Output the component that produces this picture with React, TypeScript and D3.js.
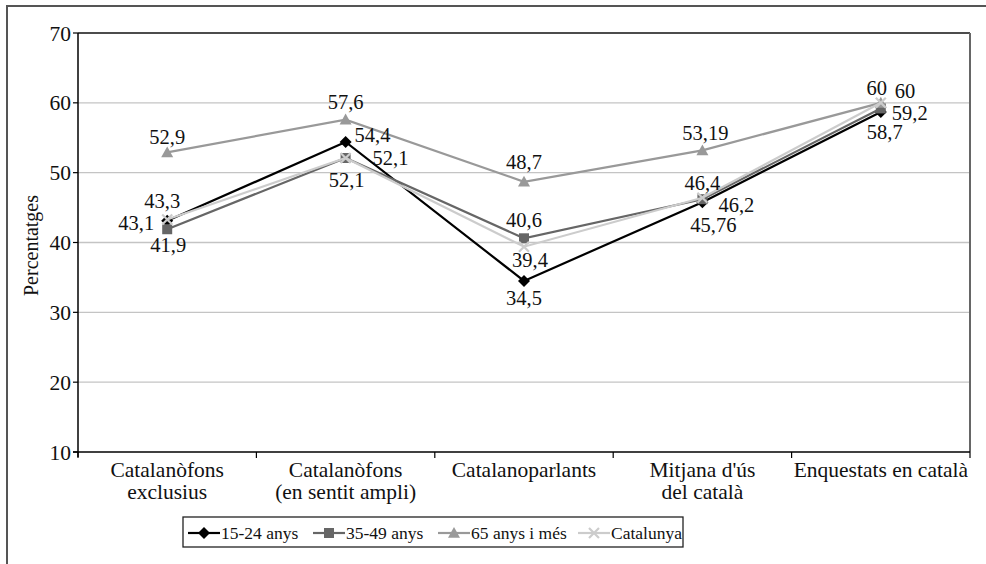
import React from "react";
import * as d3 from "d3";

const categories: string[][] = [
  ["Catalanòfons", "exclusius"],
  ["Catalanòfons", "(en sentit ampli)"],
  ["Catalanoparlants"],
  ["Mitjana d'ús", "del català"],
  ["Enquestats en català"],
];
const seriesNames = ["15-24 anys", "35-49 anys", "65 anys i més", "Catalunya"];
const s1524 = [43.1, 54.4, 34.5, 45.76, 58.7];
const s3549 = [41.9, 52.1, 40.6, 46.2, 59.2];
const s65 = [52.9, 57.6, 48.7, 53.19, 60];
const sCat = [43.3, 52.1, 39.4, 46.4, 60];
const labels1524 = ["43,1", "54,4", "34,5", "45,76", "58,7"];
const labels3549 = ["41,9", "52,1", "40,6", "46,2", "59,2"];
const labels65 = ["52,9", "57,6", "48,7", "53,19", "60"];
const labelsCat = ["43,3", "52,1", "39,4", "46,4", "60"];
const yTicks = [10, 20, 30, 40, 50, 60, 70];

// label placement style: [dx, dy, anchor]
const pos1524: [number, number, string][] = [[-13, 2, "end"], [9, -7, "start"], [0, 17, "middle"], [11, 23, "middle"], [4, 20, "middle"]];
const pos3549: [number, number, string][] = [[1, 16, "middle"], [27, 0, "start"], [0, -18, "middle"], [16, 6, "start"], [11, 4, "start"]];
const pos65: [number, number, string][] = [[0, -16, "middle"], [0, -18, "middle"], [0, -20, "middle"], [3, -18, "middle"], [-4, -15, "middle"]];
const posCat: [number, number, string][] = [[-5, -19, "middle"], [1, 22, "middle"], [6, 13, "middle"], [0, -15, "middle"], [14, -12, "start"]];

const FONT = "Liberation Serif";

function Marker({ kind, x, y, color }: { kind: string; x: number; y: number; color: string }) {
  if (kind === "diamond") {
    const r = 6;
    return <path d={`M${x},${y - r}L${x + r},${y}L${x},${y + r}L${x - r},${y}Z`} fill={color} />;
  }
  if (kind === "square") {
    const r = 5;
    return <rect x={x - r} y={y - r} width={2 * r} height={2 * r} fill={color} />;
  }
  if (kind === "triangle") {
    const r = 6;
    return <path d={`M${x},${y - r}L${x + r},${y + r * 0.8}L${x - r},${y + r * 0.8}Z`} fill={color} />;
  }
  const r = 5;
  return (
    <path d={`M${x - r},${y - r}L${x + r},${y + r}M${x - r},${y + r}L${x + r},${y - r}`} stroke={color} strokeWidth={2.2} fill="none" />
  );
}

const T = ({ children, ...p }: any) => (
  <text {...p} fontFamily={FONT} fill="#111">{children}</text>
);

export default function App() {
  const W = 986, H = 564;
  const left = 78, right = 970, top = 33, bottom = 452;
  const x = d3.scaleBand<number>().domain(d3.range(categories.length)).range([left, right]);
  const y = d3.scaleLinear().domain([10, 70]).range([bottom, top]);
  const series = [
    { name: seriesNames[0], values: s1524, labels: labels1524, pos: pos1524, color: "#000000", marker: "diamond", width: 2.2 },
    { name: seriesNames[1], values: s3549, labels: labels3549, pos: pos3549, color: "#666666", marker: "square", width: 2.2 },
    { name: seriesNames[2], values: s65, labels: labels65, pos: pos65, color: "#999999", marker: "triangle", width: 2.2 },
    { name: seriesNames[3], values: sCat, labels: labelsCat, pos: posCat, color: "#cccccc", marker: "x", width: 2.2 },
  ];
  const cx = (i: number) => (x(i) as number) + x.bandwidth() / 2;
  const line = d3.line<number>().x((_, i) => cx(i)).y((v) => y(v));
  const legendX = [188, 313, 438, 578];
  const legendY = 533;
  return (
    <svg width={W} height={H} style={{ position: "absolute", left: 0, top: 0, background: "#fff" }}>
      <rect x={0} y={0} width={W} height={H} fill="#fff" />
      {/* outer frame */}
      <line x1={7} y1={6} x2={W} y2={6} stroke="#555" strokeWidth={2} />
      <line x1={7} y1={5} x2={7} y2={H} stroke="#555" strokeWidth={2} />
      {/* gridlines */}
      {yTicks.filter((t) => t > 10 && t < 70).map((t) => (
        <line key={t} x1={left} x2={right} y1={y(t)} y2={y(t)} stroke="#c4c4c4" strokeWidth={1.3} />
      ))}
      {/* plot border */}
      <line x1={left} x2={right} y1={top} y2={top} stroke="#111" strokeWidth={1.5} />
      <line x1={right} x2={right} y1={top} y2={bottom} stroke="#666" strokeWidth={2} />
      {/* axes */}
      <line x1={left} x2={left} y1={top} y2={bottom + 5} stroke="#000" strokeWidth={1.5} />
      <line x1={left - 5} x2={right} y1={bottom} y2={bottom} stroke="#000" strokeWidth={1.5} />
      {yTicks.map((t) => (
        <g key={t}>
          <line x1={left - 5} x2={left} y1={y(t)} y2={y(t)} stroke="#000" strokeWidth={1.2} />
          <T x={left - 7} y={y(t)} dy="0.35em" textAnchor="end" fontSize={21.5}>{t}</T>
        </g>
      ))}
      {d3.range(categories.length + 1).map((i) => {
        const xx = i < categories.length ? (x(i) as number) : right;
        return <line key={i} x1={xx} x2={xx} y1={bottom} y2={bottom + 6} stroke="#000" strokeWidth={1.2} />;
      })}
      {categories.map((c, i) => (
        <T key={i} x={cx(i)} y={477} textAnchor="middle" fontSize={21.5}>
          {c.map((l, j) => (
            <tspan key={j} x={cx(i)} dy={j === 0 ? 0 : 22}>{l}</tspan>
          ))}
        </T>
      ))}
      <T transform={`translate(38,${(top + bottom) / 2 + 3}) rotate(-90)`} textAnchor="middle" fontSize={20}>Percentatges</T>
      {/* series */}
      {series.map((s) => (
        <g key={s.name}>
          <path d={line(s.values) || ""} fill="none" stroke={s.color} strokeWidth={s.width} />
          {s.values.map((v, i) => (
            <Marker key={i} kind={s.marker} x={cx(i)} y={y(v)} color={s.color} />
          ))}
        </g>
      ))}
      {series.map((s) => (
        <g key={s.name + "l"}>
          {s.values.map((v, i) => (
            <T key={i} x={cx(i) + s.pos[i][0]} y={y(v) + s.pos[i][1]} dy="0.35em" textAnchor={s.pos[i][2]} fontSize={20.5}>
              {s.labels[i]}
            </T>
          ))}
        </g>
      ))}
      {/* legend */}
      <rect x={183} y={517} width={500} height={30} fill="#fff" stroke="#222" strokeWidth={1.3} />
      {series.map((s, i) => (
        <g key={s.name + "leg"}>
          <line x1={legendX[i]} x2={legendX[i] + 32} y1={legendY} y2={legendY} stroke={s.color} strokeWidth={2.2} />
          <Marker kind={s.marker} x={legendX[i] + 16} y={legendY} color={s.color} />
          <T x={legendX[i] + 33} y={legendY} dy="0.35em" fontSize={17.5}>{s.name}</T>
        </g>
      ))}
    </svg>
  );
}
